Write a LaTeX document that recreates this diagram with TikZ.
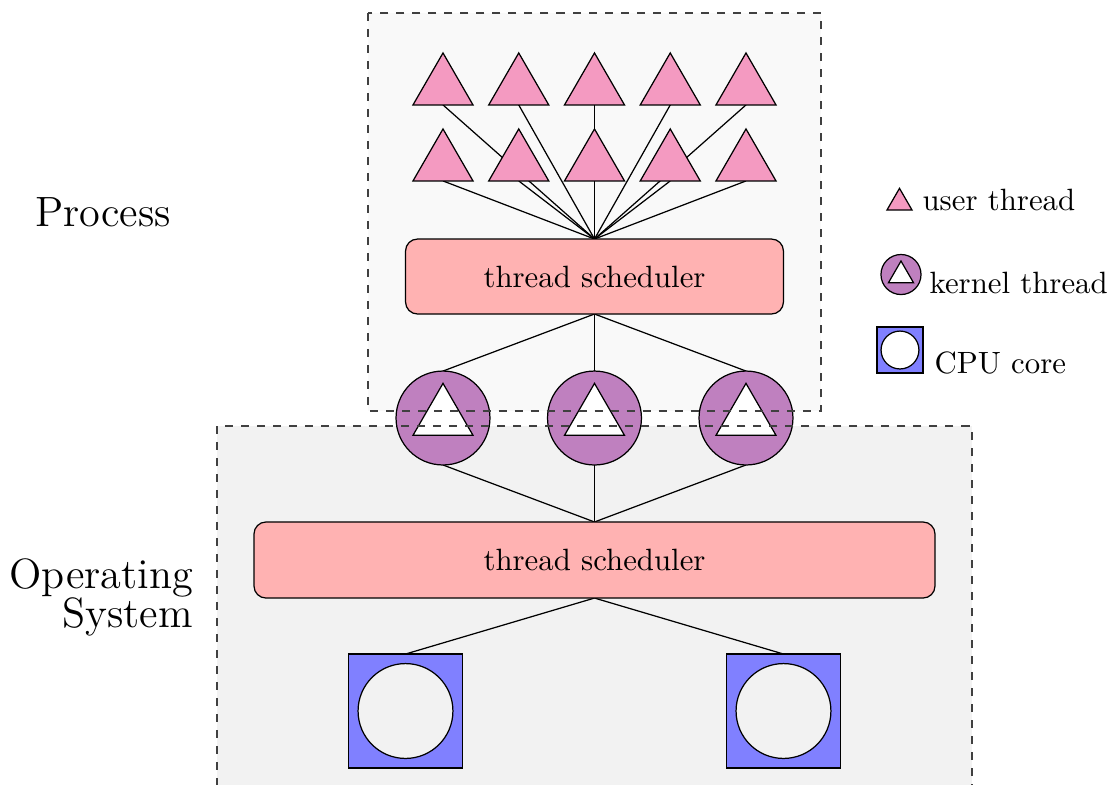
\documentclass[tikz,border=0pt]{standalone}
\usetikzlibrary{shapes.geometric}
\definecolor{uthread}{HTML}{F49AC1}
\pgfdeclarelayer{bg}
\pgfdeclarelayer{links}
\pgfdeclarelayer{fg}
\pgfsetlayers{bg,links,main,fg}
\begin{document}
\begin{tikzpicture}[x=0.32468pt,y=-0.32468pt,
  utri/.style={regular polygon, regular polygon sides=3, draw, fill=uthread,
    inner sep=0pt, outer sep=0pt, minimum size=22.5pt},
  ktri/.style={regular polygon, regular polygon sides=3, draw, fill=white,
    inner sep=0pt, outer sep=0pt, minimum size=22.5pt},
  kcirc/.style={circle, draw, fill=violet!50, inner sep=0pt, outer sep=0pt,
    minimum size=30.5pt},
  sched/.style={draw, fill=red!30, rounded corners=3.9pt, inner sep=0pt,
    outer sep=0pt},
  cpubox/.style={draw, fill=blue!50, inner sep=0pt, outer sep=0pt,
    minimum size=37pt},
  cpucore/.style={circle, draw, fill=gray!10, inner sep=0pt, minimum size=30.8pt},
  region/.style={draw=black!75, dash pattern=on 2.6pt off 2.6pt},
  link/.style={draw},
  legendtext/.style={anchor=base west, inner sep=0pt},
  biglabel/.style={font=\fontsize{13.75}{12.7}\selectfont, inner sep=0pt},
]
\clip (0,0) rectangle (1116,784);

% background regions
\begin{pgfonlayer}{bg}
  \fill[gray!5]  (368,13) rectangle (821,411);
  \fill[gray!10] (217,426) rectangle (972,800);
\end{pgfonlayer}

% user threads: two rows of five
\foreach \i in {1,...,5} {
  \node[utri] (ua\i) at ({443+75.75*(\i-1)},87.6) {};
  \node[utri] (ub\i) at ({443+75.75*(\i-1)},163.6) {};
}

% schedulers
\node[sched, minimum width=122.7pt, minimum height=24.35pt] (s1) at (594.5,276.5) {thread scheduler};
\node[sched, minimum width=221.1pt, minimum height=24.7pt] (s2) at (594.5,560) {thread scheduler};

% kernel threads
\foreach \i/\x in {1/443,2/594.5,3/746} {
  \node[kcirc] (k\i) at (\x,418) {};
  \node[ktri] (kt\i) at (\x,418) {};
}

% CPU cores
\foreach \i/\x in {1/405.5,2/783.5} {
  \node[cpubox] (c\i) at (\x,711) {};
  \node[cpucore] (cc\i) at (\x,711) {};
}

% connectors
\begin{pgfonlayer}{links}
  \foreach \i in {1,...,5} {
    \draw[link] (ua\i.south) -- (s1.north);
    \draw[link] (ub\i.south) -- (s1.north);
  }
  \foreach \i in {1,2,3} {
    \draw[link] (s1.south) -- (k\i.north);
    \draw[link] (k\i.south) -- (s2.north);
  }
  \foreach \i in {1,2} {
    \draw[link] (s2.south) -- (c\i.north);
  }
\end{pgfonlayer}

% region borders
\begin{pgfonlayer}{fg}
  \draw[region] (368,13) rectangle (821,411);
  \draw[region] (217,426) rectangle (972,800);
\end{pgfonlayer}

% region labels
\node[biglabel] (lproc) at (103,212.5) {Process};
\node[biglabel, align=right, anchor=east] (los) at (193.5,597.5) {Operating\\System};

% legend
\node[utri, minimum size=9.4pt] (lgu) at (899.5,202.8) {};
\node[legendtext] (lgut) at (922,210) {user thread};
\node[kcirc, minimum size=13pt] (lgk) at (901,274.5) {};
\node[ktri, minimum size=9.4pt] (lgkt) at (901,275.5) {};
\node[legendtext] (lgkx) at (929,293) {kernel thread};
\node[cpubox, minimum size=14.9pt] (lgc) at (900,350) {};
\node[cpucore, fill=white, minimum size=12.3pt] (lgcc) at (900,350) {};
\node[legendtext] (lgct) at (934,373) {CPU core};
\end{tikzpicture}
\end{document}
